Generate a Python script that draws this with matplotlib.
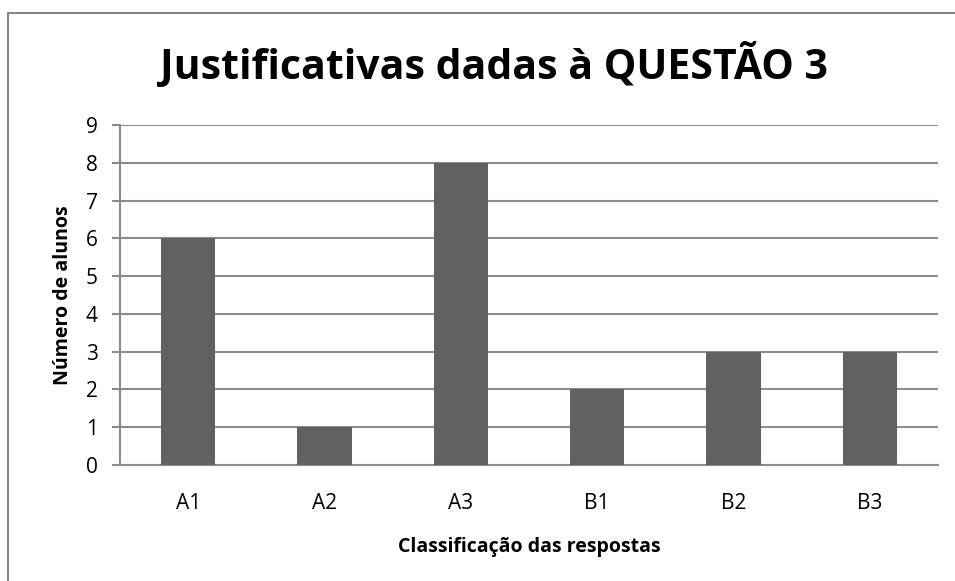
import matplotlib
matplotlib.use('Agg')
import matplotlib.pyplot as plt
from matplotlib.patches import Rectangle

categories = ['A1', 'A2', 'A3', 'B1', 'B2', 'B3']
alunos = [6, 1, 8, 2, 3, 3]

plt.rcParams['font.family'] = ['Open Sans', 'DejaVu Sans']

fig = plt.figure(figsize=(9.55, 5.81), dpi=100)
W, H = 955, 581
# outer chart frame (cut at right and bottom)
fig.patches.append(Rectangle((8 / W, -0.1), 1.2, 1 - 13 / H + 0.1, transform=fig.transFigure,
                             fill=False, edgecolor='#868686', linewidth=1.5))

ax = fig.add_axes([120 / W, 1 - 465 / H, (938 - 120) / W, (465 - 125) / H])
x = range(len(categories))
ax.bar(x, alunos, width=0.4, color='#616161', zorder=3)
ax.set_xlim(-0.5, len(categories) - 0.5)
ax.set_ylim(0, 9)
ax.set_yticks(range(10))
ax.set_xticks(list(x))
ax.set_xticklabels(categories)
ax.yaxis.grid(True, color='#8c8c8c', linewidth=1.5, zorder=0)
for s in ['top', 'right']:
    ax.spines[s].set_visible(False)
for s in ['left', 'bottom']:
    ax.spines[s].set_color('#8c8c8c')
    ax.spines[s].set_linewidth(1.5)
ax.tick_params(axis='y', length=6, width=1.5, color='#8c8c8c', labelsize=15, pad=10)
ax.tick_params(axis='x', length=0, labelsize=15, pad=20)

ax.set_xlabel('Classificação das respostas', fontsize=14, fontweight='bold', labelpad=17)
ax.set_ylabel('Número de alunos', fontsize=14, fontweight='bold', labelpad=9)
fig.text(494 / W, 1 - 66 / H, 'Justificativas dadas à QUESTÃO 3', fontsize=29.5, fontweight='bold',
         ha='center', va='center')

fig.savefig('out.png', dpi=100)
